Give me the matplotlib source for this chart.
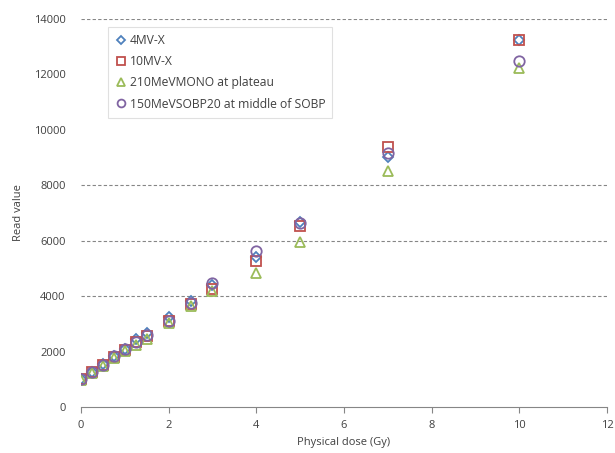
import matplotlib
matplotlib.use("Agg")
import matplotlib.pyplot as plt

# physical dose (Gy)
dose = [0, 0.25, 0.5, 0.75, 1.0, 1.25, 1.5, 2, 2.5, 3, 4, 5, 7, 10]

# read values per beam
mv4 = [1000, 1260, 1540, 1840, 2100, 2450, 2670, 3250, 3830, 4400, 5400, 6690, 9030, 13230]
mv10 = [1000, 1250, 1520, 1810, 2060, 2350, 2560, 3100, 3720, 4260, 5280, 6530, 9370, 13230]
mono210 = [980, 1230, 1480, 1770, 2010, 2240, 2450, 3030, 3640, 4190, 4850, 5970, 8530, 12220]
sobp150 = [1010, 1260, 1530, 1830, 2080, 2350, 2600, 3120, 3760, 4470, 5630, 6650, 9180, 12490]

labels = ["4MV-X", "10MV-X", "210MeVMONO at plateau", "150MeVSOBP20 at middle of SOBP"]

# gridlines that are visible in the original chart
grid_levels = [4000, 6000, 8000, 14000]

plt.rcParams["font.family"] = ["Open Sans", "DejaVu Sans"]
FS = 8

fig = plt.figure(figsize=(6.15, 4.53), dpi=100)
ax = fig.add_axes([0.1317, 0.1015, 0.8553, 0.8565])

styles = [
    dict(marker="D", color="#4F81BD", ms=5.5),
    dict(marker="s", color="#C0504D", ms=7),
    dict(marker="^", color="#9BBB59", ms=7.5),
    dict(marker="o", color="#8064A2", ms=7.5),
]
for ys, lab, st in zip([mv4, mv10, mono210, sobp150], labels, styles):
    ax.plot(dose, ys, linestyle="none", marker=st["marker"], markersize=st["ms"],
            markerfacecolor="none", markeredgecolor=st["color"], markeredgewidth=1.3,
            label=lab)

for g in grid_levels:
    ax.axhline(g, color="#868686", linewidth=0.8, linestyle=(0, (3, 2)), zorder=0)

ax.set_xlim(0, 12)
ax.set_ylim(0, 14000)
ax.set_xticks(range(0, 13, 2))
ax.set_yticks(range(0, 14001, 2000))

for s in ["top", "right", "left"]:
    ax.spines[s].set_visible(False)
ax.spines["bottom"].set_color("#868686")
ax.tick_params(axis="x", direction="out", length=4, color="#868686", labelsize=FS,
               labelcolor="#404040", pad=5)
ax.tick_params(axis="y", length=0, labelsize=FS, labelcolor="#404040", pad=11)

ax.set_xlabel("Physical dose (Gy)", fontsize=FS, color="#404040", labelpad=5)
ax.set_ylabel("Read value", fontsize=FS, color="#404040", labelpad=7)

leg = ax.legend(loc="upper left", bbox_to_anchor=(0.051, 0.98), borderaxespad=0,
                fontsize=8.7, frameon=True, fancybox=False, edgecolor="#D9D9D9",
                labelspacing=0.68, handletextpad=0.2, handlelength=1.0,
                borderpad=0.6, markerscale=0.75)
leg.get_frame().set_linewidth(0.8)
for t in leg.get_texts():
    t.set_color("#404040")

fig.savefig("out.png", dpi=100)
